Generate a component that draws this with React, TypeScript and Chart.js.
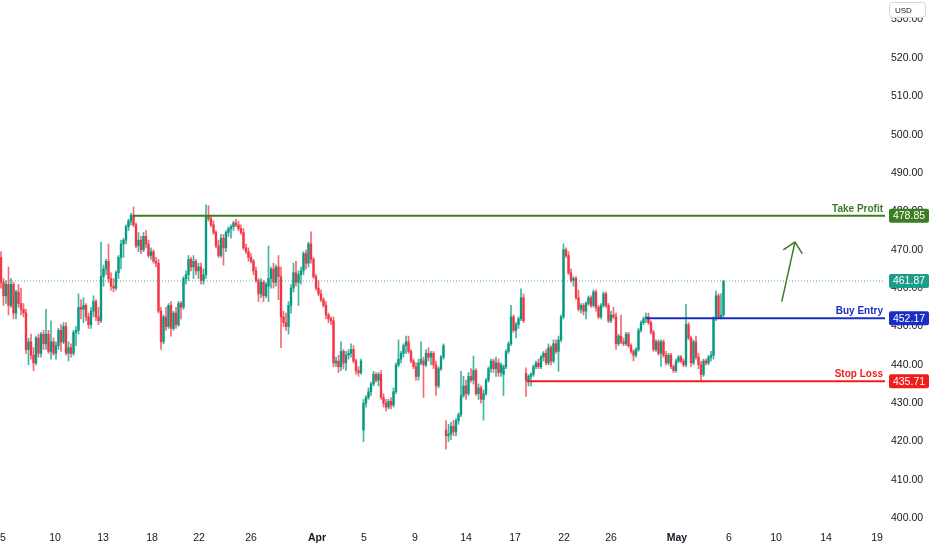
import React, { useEffect, useRef } from "react";
import { Chart, registerables } from "chart.js";

Chart.register(...registerables);

// ---- candle data ----
const opens = [
  468, 461.5, 458, 461, 455.5, 461, 453.5, 459, 456, 454.5,
  453.5, 444, 446, 442.5, 440.5, 447, 443, 448, 445.5, 448,
  443.5, 446, 443, 445, 449, 446, 450, 443, 444.5, 443,
  448.5, 449, 455, 454.5, 455.5, 452.5, 450.5, 454, 456.5, 452.5,
  451.5, 463, 465, 467, 462.5, 460.5, 460, 464, 468, 471.5,
  472.5, 476, 477.5, 479, 476.5, 471, 472.5, 470, 473.5, 471.5,
  468.5, 469.5, 467, 466.5, 454, 446, 452.5, 450, 455.5, 449.5,
  453.5, 450.5, 456, 455, 462.5, 463.5, 467.5, 465.5, 467, 464.5,
  465.5, 462, 463.5, 479, 478, 476.5, 474.5, 471, 468.5, 473,
  470.5, 474.5, 475.5, 476, 477, 476.5, 475.5, 474.5, 470.5, 469.5,
  468, 467, 464.5, 462, 458.5, 461.5, 458, 460.5, 462.5, 465,
  461.5, 465.5, 463, 452.5, 451, 450, 455.5, 460, 464, 461.5,
  463.5, 464.5, 469, 466.5, 471.5, 467.5, 463, 460, 458.5, 457,
  455.5, 453, 452, 451.5, 440.5, 441, 439.5, 443.5, 440.5, 442.5,
  443, 444, 441, 438.5, 438, 423, 430, 431.5, 433, 435,
  437.5, 436, 437.5, 431.5, 430, 429, 430.5, 429.5, 433, 440,
  441.5, 443, 445, 446, 443.5, 441, 439.5, 437, 440.5, 441,
  440, 443, 442, 443, 440, 434.5, 439, 442, 423, 421.5,
  422, 424, 422.5, 425.5, 427, 432, 434.5, 432.5, 437, 436,
  438.5, 432.5, 434, 431, 432.5, 436, 439, 441, 439, 440.5,
  438, 437.5, 439.5, 443.5, 445.5, 452.5, 449, 450.5, 452, 457.5,
  437.8, 436, 437, 437.5, 439.5, 440.5, 439.5, 442, 443, 440.5,
  444.5, 441, 445.5, 443.5, 446.5, 452.5, 470, 468.5, 464, 462,
  462.5, 457.5, 454.5, 455.5, 454, 456, 457.5, 455.5, 459, 455,
  452.5, 455.5, 458.5, 455.5, 451.5, 453, 452.5, 445.5, 447.5, 446,
  445.5, 448, 445, 443.5, 442.5, 444, 449, 451, 452, 452.5,
  451, 448.5, 444, 446, 443, 446, 442.5, 440.5, 442.5, 439.5,
  438.5, 441, 442, 441, 440, 450.5, 447, 440.5, 446, 442,
  440, 437.5, 441, 440.5, 442, 442.5, 452, 458, 452.5, 453,
];
const highs = [
  469.5, 462.5, 462, 465.5, 462.5, 461.5, 459.5, 461, 460, 456,
  454.5, 447, 448, 444.5, 447.5, 448, 448.5, 449, 454.5, 449,
  451.5, 447, 446, 449.5, 450.5, 451, 451, 446, 445.5, 449,
  450, 458.5, 457, 457.5, 456, 453.5, 455, 458, 457, 455,
  472, 466, 467.5, 471.5, 464, 462.5, 464.5, 468.5, 472.5, 473,
  476.5, 478, 479.5, 481.2, 477, 474.5, 473.5, 474.5, 475, 472.5,
  470.5, 470, 468, 467.5, 455, 453, 455, 456, 456.5, 454,
  455, 456.5, 456.5, 463, 464.5, 468.5, 468, 468.5, 467.5, 466.5,
  466.5, 465, 481.7, 481.5, 479, 477.5, 475, 472.5, 474, 474,
  475, 476, 476.5, 477.5, 478, 477.5, 476.5, 475.5, 471.5, 470.5,
  469, 467.5, 465.5, 462.5, 462.5, 462, 461.5, 471, 465.5, 466.5,
  466, 468.5, 465.5, 454, 453.5, 456.5, 461, 466.5, 467, 464.5,
  465.5, 469.5, 470, 472, 474.7, 468, 463.5, 462, 459.5, 457.5,
  456.5, 453.5, 452.5, 452.5, 442, 442.5, 446, 444, 443.5, 444,
  445.5, 445, 441.5, 439.5, 441.5, 431, 432, 434, 435.5, 438.3,
  438, 438, 438.5, 432.5, 431, 431, 431.5, 434, 440.5, 446.5,
  443.5, 445.5, 447.5, 447.5, 444, 441.5, 440.5, 441.5, 446, 442,
  444, 444.5, 443.5, 443.5, 441, 439.5, 442.5, 445.5, 425.5, 424.5,
  425, 425.5, 426, 427.5, 438.3, 437, 436, 438, 439, 442.3,
  439, 435, 434.5, 433.5, 436.5, 439.5, 441.5, 441.5, 442, 441.5,
  440.5, 440, 444, 446, 455.5, 453, 451, 452.5, 459.8, 458.5,
  439.2, 437.5, 438, 440, 441, 441.5, 442.5, 443.5, 444, 445.5,
  445, 446.5, 446.5, 447.5, 453, 471.6, 470.5, 469.5, 465, 463,
  463, 459.5, 456, 456, 456.5, 458, 458, 459.5, 459.5, 455.5,
  456, 459, 459, 456, 454, 455, 453.5, 448, 453, 447,
  448.5, 448.5, 445.5, 444, 444.5, 449.5, 451.5, 452.5, 453.5, 453.5,
  451.5, 449, 446.5, 446.5, 446.5, 446.5, 443.5, 443, 443, 440,
  441.5, 442.5, 442.5, 441.5, 455.8, 451, 447.5, 446.5, 447.5, 443,
  441, 441.5, 441.5, 442.5, 443.5, 452.5, 459.3, 458.5, 458.5, 462,
];
const lows = [
  460, 455.5, 456, 453, 455, 452, 452, 455, 453, 452.5,
  443, 440, 441.5, 438.5, 440, 442, 442, 444, 444, 443,
  441.5, 442.5, 441.5, 444, 443.5, 445.5, 442.5, 441, 442, 442.5,
  445, 448, 452, 451, 451.5, 449.5, 449.5, 452.5, 451.5, 450.5,
  451, 460.5, 463.5, 461.5, 459.5, 459, 459.5, 462.5, 465, 468,
  471.5, 475, 476.5, 476, 470.5, 469.5, 469, 469.5, 470.5, 468,
  467.5, 466.5, 465.5, 453.5, 444, 445.5, 449, 449.5, 447.5, 449,
  449.5, 450, 452, 454.5, 461, 462, 464.5, 462.5, 463.5, 462.5,
  461, 461, 462.5, 477.5, 476, 474, 470.5, 468, 468, 466,
  469.5, 473.5, 473, 475, 476, 475, 474, 470, 469, 467,
  466.5, 463.5, 461.5, 456.5, 457.5, 456.5, 457.5, 456.5, 460, 460,
  460.5, 457, 444.5, 450, 449, 448, 453.5, 459, 460.5, 455.5,
  461, 463.5, 465, 465.5, 466.5, 462.5, 459.5, 458, 456.5, 455,
  452, 451, 450.5, 439.5, 439.5, 438, 438.5, 439, 438.5, 441.5,
  442, 440.5, 437.5, 437, 437.5, 420, 429, 431, 432, 434.5,
  435.5, 434.5, 431, 429, 428, 428.5, 428.5, 429, 432.5, 439.5,
  440.5, 442, 443, 443, 440.5, 439, 436, 436, 440, 431.5,
  439.5, 441, 440, 439, 432, 434, 438.5, 441.5, 418, 420,
  420.5, 421.5, 421.5, 424.5, 426.5, 431.5, 431, 432, 435.5, 435,
  432, 431, 430, 425.6, 432, 435.5, 438, 438, 437, 437,
  437, 432, 439, 443, 445, 448.5, 447, 449.5, 451.5, 451,
  431.8, 434.5, 434.5, 437, 439, 439, 439, 441, 440, 440,
  440, 440.5, 443, 438.3, 446, 452, 468, 463.5, 461.5, 460.5,
  457, 454, 453.5, 453, 452, 455.5, 455, 455, 454, 452,
  452, 455, 455, 451, 451, 452, 444, 445, 445.5, 445,
  445, 444.5, 443, 441, 442, 443.5, 448.5, 450.5, 451, 450.5,
  448, 443.5, 443.5, 442.5, 439.6, 442, 440, 440, 439, 438,
  438, 440.5, 440.5, 439.5, 439.5, 446.5, 439.5, 440, 441.5, 439,
  435.7, 437, 440, 440, 441, 441.5, 451.5, 452, 452, 452.5,
];
const closes = [
  461.5, 458, 461, 455.5, 461, 453.5, 459, 456, 454.5, 453.5,
  444, 446, 442.5, 440.5, 447, 443, 448, 445.5, 448, 443.5,
  446, 443, 445, 449, 446, 450, 443, 444.5, 443, 448.5,
  449, 455, 454.5, 455.5, 452.5, 450.5, 454, 456.5, 452.5, 451.5,
  463, 465, 467, 462.5, 460.5, 460, 464, 468, 471.5, 472.5,
  476, 477.5, 479, 476.5, 471, 472.5, 470, 473.5, 471.5, 468.5,
  469.5, 467, 466.5, 454, 446, 452.5, 450, 455.5, 449.5, 453.5,
  450.5, 456, 455, 462.5, 463.5, 467.5, 465.5, 467, 464.5, 465.5,
  462, 463.5, 479, 478, 476.5, 474.5, 471, 468.5, 473, 470.5,
  474.5, 475.5, 476, 477, 476.5, 475.5, 474.5, 470.5, 469.5, 468,
  467, 464.5, 462, 458.5, 461.5, 458, 461, 462.5, 465, 461.5,
  465.5, 463, 452.5, 451, 450, 455.5, 460, 464, 461.5, 463.5,
  464.5, 469, 466.5, 471.5, 467.5, 463, 460, 458.5, 457, 455.5,
  453, 452, 451.5, 440.5, 441, 439.5, 443.5, 440.5, 442.5, 443,
  444, 441, 438.5, 438, 441, 430, 431.5, 433, 435, 437.5,
  436, 437.5, 431.5, 430, 429, 430.5, 429.5, 433, 440, 441.5,
  443, 445, 446, 443.5, 441, 439.5, 437, 440.5, 441.5, 440,
  443, 442, 443, 440, 434.5, 439, 442, 445, 421.5, 422,
  424, 422.5, 425.5, 427, 432, 434.5, 432.5, 437, 436, 438.5,
  432.5, 434, 431, 432.5, 436, 439, 441, 439, 440.5, 438,
  440, 439.5, 443.5, 445.5, 452.5, 449, 450.5, 452, 457.5, 451.5,
  436, 437, 437.5, 439.5, 440.5, 439.5, 442, 443, 440.5, 444.5,
  441, 445.5, 443.5, 446.5, 452.5, 470, 468.5, 464, 462, 462.5,
  457.5, 454.5, 455.5, 454, 456, 457.5, 455.5, 459, 455, 452.5,
  455.5, 458.5, 455.5, 451.5, 453, 452.5, 445.5, 447.5, 446, 445.5,
  448, 445, 443.5, 442.5, 444, 449, 451, 452, 452.5, 451,
  448.5, 444, 446, 443, 446, 442.5, 440.5, 442.5, 439.5, 438.5,
  441, 442, 441, 440, 450.5, 447, 440.5, 446, 442, 440,
  437.5, 441, 440.5, 442, 442.5, 452, 458, 452.5, 453, 461.87,
];

// ---- axis ticks ----
const xTickPos = [0.8, 21.6, 40.8, 60.4, 79.2, 100, 126.4, 145.2, 165.6, 186, 205.6, 225.2, 244, 270.4, 291.2, 310, 330, 350.4];
const xTickLabels = ["5", "10", "13", "18", "22", "26", "Apr", "5", "9", "14", "17", "22", "26", "May", "6", "10", "14", "19"];
const yTickValues = [400, 410, 420, 430, 440, 450, 460, 470, 480, 490, 500, 510, 520, 530];

// ---- levels / annotations ----
const takeProfit = 478.85;
const buyEntry = 452.17;
const stopLoss = 435.71;
const lastPrice = 461.87;
const takeProfitStart = 52.8;
const buyEntryStart = 258.3;
const stopLossStart = 210.3;
const arrowShaft = [{ x: 312.3, y: 456.5 }, { x: 317.6, y: 472.0 }];
const arrowHead = [{ x: 312.9, y: 470.0 }, { x: 317.6, y: 472.0 }, { x: 320.5, y: 469.0 }];

const X_MIN = -0.4;
const X_MAX = 353.6;
const Y_MIN = 397.73;
const Y_MAX = 535.11;

const BULL = "#089981";
const BEAR = "#f23645";
const GREEN = "#3b7d23";
const BLUE = "#1a2ec6";
const RED = "#f21c1c";
const TEAL_TAG = "#1a9e88";
const FONT = '"Liberation Sans", Arial, sans-serif';

export default function App() {
  const ref = useRef<HTMLCanvasElement | null>(null);

  useEffect(() => {
    const canvas = ref.current;
    if (!canvas) return;
    const idx = opens.map((_, i) => i);
    const colors = idx.map((i) => (closes[i] >= opens[i] ? BULL : BEAR));
    const wickColors = idx.map((i) => (closes[i] >= opens[i] ? "rgba(8,153,129,0.75)" : "rgba(242,54,69,0.75)"));

    const overlay = {
      id: "overlay",
      afterDraw(chart: any) {
        const { ctx, chartArea } = chart;
        const y = chart.scales.y;
        ctx.save();
        ctx.font = `bold 10px ${FONT}`;
        ctx.textAlign = "right";
        ctx.textBaseline = "alphabetic";
        const captions = [
          { v: takeProfit, t: "Take Profit", c: GREEN },
          { v: buyEntry, t: "Buy Entry", c: BLUE },
          { v: stopLoss, t: "Stop Loss", c: RED },
        ];
        for (const cp of captions) {
          ctx.fillStyle = cp.c;
          ctx.fillText(cp.t, chartArea.right - 2, y.getPixelForValue(cp.v) - 4);
        }
        const tags = [
          { v: takeProfit, c: GREEN },
          { v: lastPrice, c: TEAL_TAG },
          { v: buyEntry, c: BLUE },
          { v: stopLoss, c: RED },
        ];
        ctx.font = `10.5px ${FONT}`;
        ctx.textAlign = "center";
        ctx.textBaseline = "middle";
        for (const tg of tags) {
          const py = y.getPixelForValue(tg.v);
          const bx = chartArea.right + 4;
          ctx.fillStyle = tg.c;
          ctx.beginPath();
          (ctx as any).roundRect(bx, py - 7, 40, 14, 2);
          ctx.fill();
          ctx.fillStyle = "#ffffff";
          ctx.fillText(tg.v.toFixed(2), bx + 20, py + 0.5);
        }
        const ux = chartArea.right + 4;
        ctx.fillStyle = "#ffffff";
        ctx.strokeStyle = "#d1d4dc";
        ctx.lineWidth = 1;
        ctx.beginPath();
        (ctx as any).roundRect(ux + 0.5, 2.5, 36, 15, 3);
        ctx.fill();
        ctx.stroke();
        ctx.fillStyle = "#131722";
        ctx.font = `8px ${FONT}`;
        ctx.textAlign = "left";
        ctx.fillText("USD", ux + 6, 10.5);
        ctx.restore();
      },
    };

    const lineDs = (data: any[], color: string, width: number, dash: number[] = []) => ({
      type: "line" as const,
      data,
      borderColor: color,
      borderWidth: width,
      borderDash: dash,
      pointRadius: 0,
      fill: false,
      tension: 0,
      order: 1,
    });

    const chart = new Chart(canvas, {
      type: "bar",
      data: {
        datasets: [
          {
            type: "bar",
            data: idx.map((i) => ({ x: i, y: [lows[i], highs[i]] })),
            backgroundColor: wickColors,
            barThickness: 1,
            grouped: false,
            borderWidth: 0,
            order: 3,
          } as any,
          {
            type: "bar",
            data: idx.map((i) => ({ x: i, y: [opens[i], closes[i]] })),
            backgroundColor: colors,
            barThickness: 1.7,
            grouped: false,
            borderWidth: 0,
            order: 2,
          } as any,
          lineDs([{ x: X_MIN, y: lastPrice }, { x: X_MAX, y: lastPrice }], "rgba(26,158,136,0.75)", 1, [1, 2]),
          lineDs([{ x: takeProfitStart, y: takeProfit }, { x: X_MAX, y: takeProfit }], GREEN, 2),
          lineDs([{ x: buyEntryStart, y: buyEntry }, { x: X_MAX, y: buyEntry }], BLUE, 2),
          lineDs([{ x: stopLossStart, y: stopLoss }, { x: X_MAX, y: stopLoss }], RED, 2),
          lineDs(arrowShaft, GREEN, 1.5),
          lineDs(arrowHead, GREEN, 1.5),
        ] as any,
      },
      options: {
        responsive: false,
        animation: false,
        events: [],
        layout: { padding: 0 },
        plugins: { legend: { display: false }, tooltip: { enabled: false } },
        scales: {
          x: {
            type: "linear",
            min: X_MIN,
            max: X_MAX,
            offset: false,
            grid: { display: false, drawTicks: false },
            border: { display: false },
            afterBuildTicks: (s: any) => {
              s.ticks = xTickPos.map((v) => ({ value: v }));
            },
            afterFit: (s: any) => {
              s.height = 23;
              s.paddingLeft = 0;
              s.paddingRight = 0;
            },
            ticks: {
              autoSkip: false,
              maxRotation: 0,
              padding: 5,
              color: "#131722",
              font: (c: any) => ({
                family: FONT,
                size: 10.5,
                weight: xTickLabels[c.index] === "Apr" || xTickLabels[c.index] === "May" ? "bold" : "normal",
              }),
              callback: (_v: any, i: number) => xTickLabels[i],
            },
          },
          y: {
            type: "linear",
            position: "right",
            min: Y_MIN,
            max: Y_MAX,
            grid: { display: false, drawTicks: false },
            border: { display: false },
            afterBuildTicks: (s: any) => {
              s.ticks = yTickValues.map((v) => ({ value: v }));
            },
            afterFit: (s: any) => {
              s.width = 47;
              s.paddingTop = 0;
              s.paddingBottom = 0;
            },
            ticks: {
              padding: 6,
              color: "#131722",
              font: { family: FONT, size: 10.5 },
              callback: (v: any) => Number(v).toFixed(2),
            },
          },
        },
      } as any,
      plugins: [overlay],
    });

    return () => chart.destroy();
  }, []);

  return (
    <div style={{ position: "absolute", left: 0, top: 0, width: 932, height: 550, background: "#ffffff" }}>
      <canvas ref={ref} width={932} height={550} style={{ display: "block" }} />
    </div>
  );
}
